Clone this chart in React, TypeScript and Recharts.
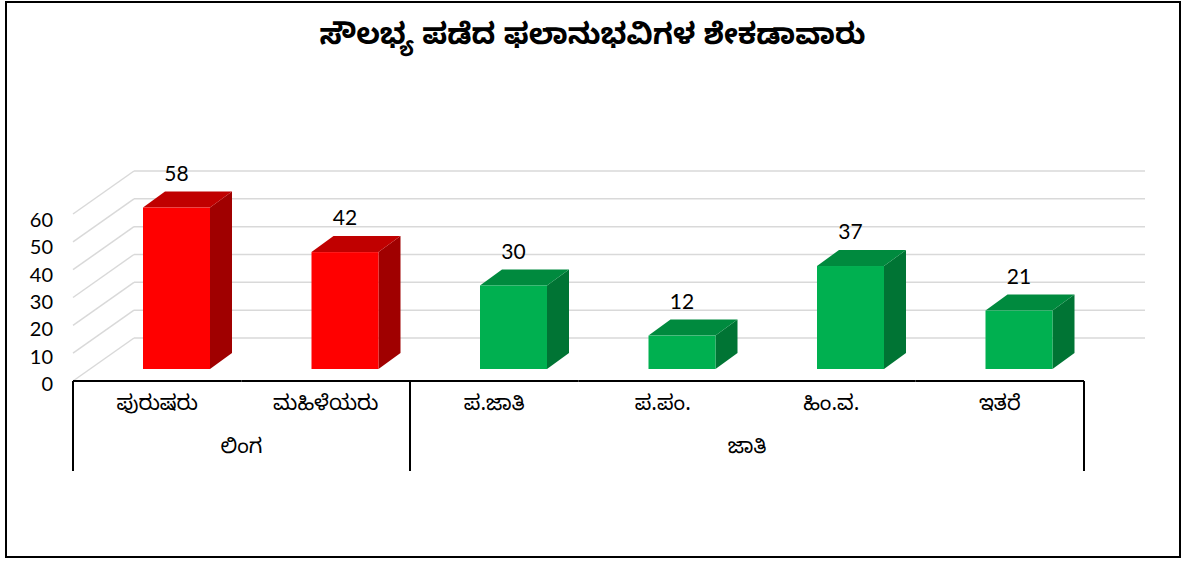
import React from 'react';
import { BarChart, Bar, XAxis, YAxis, CartesianGrid, LabelList, Cell } from 'recharts';

// ---- data ----
const title = 'ಸೌಲಭ್ಯ ಪಡೆದ ಫಲಾನುಭವಿಗಳ ಶೇಕಡಾವಾರು';
const categories = ['ಪುರುಷರು', 'ಮಹಿಳೆಯರು', 'ಪ.ಜಾತಿ', 'ಪ.ಪಂ.', 'ಹಿಂ.ವ.', 'ಇತರೆ'];
const groups = ['ಲಿಂಗ', 'ಲಿಂಗ', 'ಜಾತಿ', 'ಜಾತಿ', 'ಜಾತಿ', 'ಜಾತಿ'];
const values = [58, 42, 30, 12, 37, 21];
const yTicks = [0, 10, 20, 30, 40, 50, 60];

// ---- styles ----
const groupColors: Record<string, { front: string; top: string; side: string }> = {
  'ಲಿಂಗ': { front: '#FF0000', top: '#C00000', side: '#A00000' },
  'ಜಾತಿ': { front: '#00B050', top: '#008A3E', side: '#007434' },
};
const KN_FONT = '"Noto Sans Kannada", "Noto Sans", "DejaVu Sans", sans-serif';
const NUM_FONT = 'Lato, "Open Sans", sans-serif';

const data = categories.map((c, i) => ({ name: c, group: groups[i], value: values[i] }));

// ---- layout ----
const W = 1185;
const H = 561;
const Y_AXIS_W = 30;
const X_AXIS_H = 30;
const margin = { top: 202, right: 82, bottom: 162, left: 92 - Y_AXIS_W };
const PLOT_LEFT = margin.left + Y_AXIS_W;
const PLOT_W = W - PLOT_LEFT - margin.right;
const PLOT_BOTTOM = H - margin.bottom - X_AXIS_H;
const SLOT = PLOT_W / categories.length;
const BAR_DX = 22, BAR_DY = 16;
const WALL_DX = 42, WALL_DY = 31;
const FLOOR_DX = -19, FLOOR_DY = 12;
const TABLE_TOP = PLOT_BOTTOM + FLOOR_DY;
const TABLE_BOTTOM = 471;

const Box3D = (props: any) => {
  const { x, y, width, height, payload } = props;
  const c = groupColors[payload.group];
  const topPts = `${x},${y} ${x + BAR_DX},${y - BAR_DY} ${x + width + BAR_DX},${y - BAR_DY} ${x + width},${y}`;
  const sidePts = `${x + width},${y} ${x + width + BAR_DX},${y - BAR_DY} ${x + width + BAR_DX},${y + height - BAR_DY} ${x + width},${y + height}`;
  return (
    <g>
      <polygon points={sidePts} fill={c.side} />
      <polygon points={topPts} fill={c.top} />
      <rect x={x} y={y} width={width} height={height} fill={c.front} />
    </g>
  );
};

const GridLine = (props: any) => {
  const { x1, x2, y1 } = props;
  const bx1 = x1 + WALL_DX;
  const bx2 = x2 + WALL_DX;
  const by = y1 - WALL_DY;
  return (
    <g key={props.key}>
      <line x1={x1 + FLOOR_DX} y1={y1 + FLOOR_DY} x2={bx1} y2={by} stroke="#D9D9D9" strokeWidth={1.5} />
      <line x1={bx1} y1={by} x2={bx2} y2={by} stroke="#D9D9D9" strokeWidth={1.5} />
    </g>
  );
};

const YTick = (props: any) => {
  const { y, payload } = props;
  return (
    <text x={PLOT_LEFT + FLOOR_DX - 20} y={y + FLOOR_DY + 2 + (payload.value / 60) * 3} textAnchor="end" dominantBaseline="central"
      fontSize={20} fontFamily={NUM_FONT} fill="#000">
      {payload.value}
    </text>
  );
};

const XTick = (props: any) => {
  const { x, payload, index } = props;
  const fx = x + FLOOR_DX;
  const g = groups[index];
  const isFirst = index === 0 || groups[index - 1] !== g;
  const isLast = index === groups.length - 1;
  let groupSize = 0;
  if (isFirst) {
    for (let j = index; j < groups.length && groups[j] === g; j++) groupSize++;
  }
  return (
    <g>
      <line x1={fx - SLOT / 2} y1={TABLE_TOP} x2={fx + SLOT / 2} y2={TABLE_TOP} stroke="#000" strokeWidth={2} />
      {isFirst && (
        <line x1={fx - SLOT / 2} y1={TABLE_TOP} x2={fx - SLOT / 2} y2={TABLE_BOTTOM} stroke="#000" strokeWidth={2} />
      )}
      {isLast && (
        <line x1={fx + SLOT / 2} y1={TABLE_TOP} x2={fx + SLOT / 2} y2={TABLE_BOTTOM} stroke="#000" strokeWidth={2} />
      )}
      <text x={fx} y={407} textAnchor="middle" dominantBaseline="central" fontSize={21} fontFamily={KN_FONT} fill="#000">
        {payload.value}
      </text>
      {isFirst && (
        <text x={fx + ((groupSize - 1) * SLOT) / 2} y={450} textAnchor="middle" dominantBaseline="central"
          fontSize={21} fontFamily={KN_FONT} fill="#000">
          {g}
        </text>
      )}
    </g>
  );
};

export default function App() {
  return (
    <div style={{ position: 'absolute', left: 0, top: 0, width: W, height: H, background: '#fff' }}>
      <BarChart width={W} height={H} data={data} margin={margin}>
        <CartesianGrid vertical={false} horizontal={GridLine as any} />
        <YAxis domain={[0, 60]} ticks={yTicks} width={Y_AXIS_W} axisLine={false} tickLine={false} tick={YTick} interval={0} />
        <XAxis dataKey="name" height={X_AXIS_H} axisLine={false} tickLine={false} tick={XTick} interval={0} />
        <Bar dataKey="value" barSize={67} shape={Box3D} isAnimationActive={false}>
          {data.map((d, i) => (
            <Cell key={i} fill={groupColors[d.group].front} />
          ))}
          <LabelList dataKey="value" position="top" offset={27} fontSize={21} fontFamily={NUM_FONT} fill="#000" />
        </Bar>
        <text x={W / 2} y={40} textAnchor="middle" dominantBaseline="central" fontSize={29} fontWeight="bold"
          fontFamily={KN_FONT} fill="#000">
          {title}
        </text>
      </BarChart>
      <div style={{ position: 'absolute', left: 5, top: 1, width: 1176, height: 557, border: '2px solid #000', boxSizing: 'border-box', pointerEvents: 'none' }} />
    </div>
  );
}
